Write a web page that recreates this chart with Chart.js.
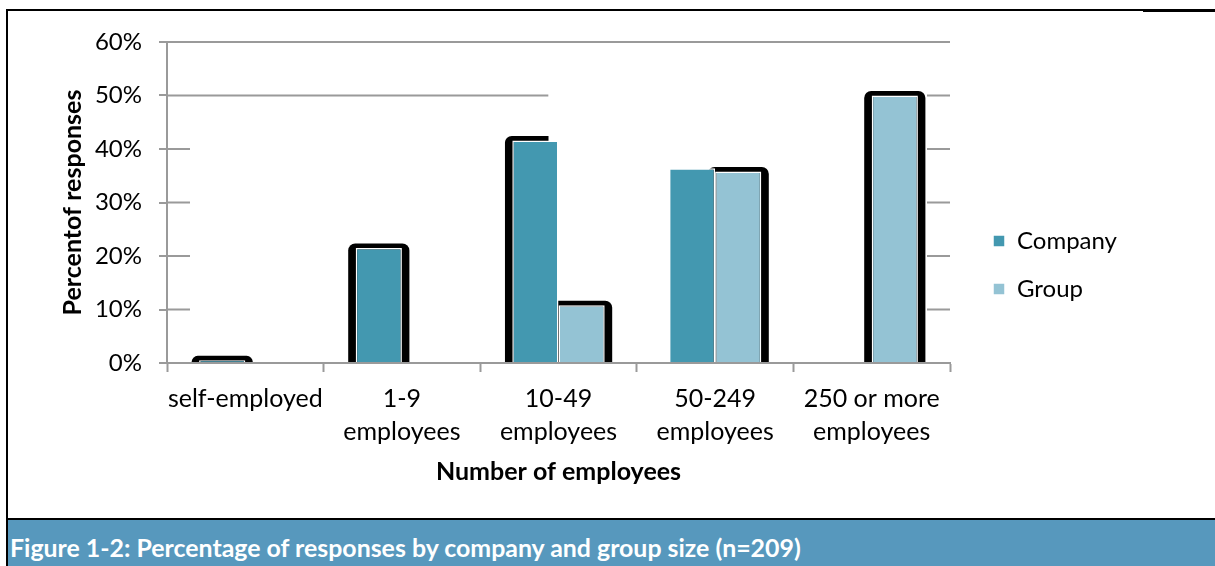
<!DOCTYPE html>
<html>
<head>
<meta charset="utf-8">
<title>Responses by company and group size</title>
<script src="https://cdn.jsdelivr.net/npm/chart.js@4.4.1/dist/chart.umd.min.js"></script>
<style>
  html, body { margin: 0; padding: 0; background: #fff; }
  #figure { position: relative; width: 1215px; height: 566px; overflow: hidden; font-family: Lato, sans-serif; }
  #frame { position: absolute; left: 6px; top: 9px; right: -4px; bottom: 0; border-left: 2px solid #000; border-top: 2px solid #000; }
  #frame-edge { position: absolute; left: 1143px; top: 10px; width: 72px; height: 2px; background: #000; }
  #chart { position: absolute; left: 0; top: 0; }
  #caption {
    position: absolute; left: 8px; right: 0; top: 518px; bottom: 0;
    border-top: 2px solid #000; background: #5798bd; color: #fff;
    font-weight: bold; font-size: 24.9px; line-height: 28px;
    padding: 13px 0 0 2px; box-sizing: border-box; white-space: nowrap;
  }
</style>
</head>
<body>
<div id="figure">
  <div id="frame"></div>
  <div id="frame-edge"></div>
  <canvas id="chart" width="1215" height="518"></canvas>
  <div id="caption">Figure 1-2: Percentage of responses by company and group size (n=209)</div>
</div>
<script>
// Share of responses (%) per size band
const categories = ['self-employed', ['1-9', 'employees'], ['10-49', 'employees'], ['50-249', 'employees'], ['250 or more', 'employees']];
const companyValues = [0.5, 21.5, 41.6, 36.4, 0];
const groupValues = [0, 0, 10.8, 35.8, 50.0];
const yTicks = [0, 10, 20, 30, 40, 50, 60];

const GRID = '#9a9a9a';

// Short grid stubs at the plot edges, plus the longer 50% line
const gridStubs = {
    id: 'gridStubs',
    beforeDatasetsDraw(chart, args, opts) {
        const { ctx, chartArea: a, scales: { y } } = chart;
        ctx.save();
        ctx.strokeStyle = opts.color;
        ctx.lineWidth = opts.width;
        yTicks.forEach(v => {
            if (v === yTicks[0] || v === yTicks[yTicks.length - 1]) return;
            const py = y.getPixelForValue(v);
            const leftEnd = v === opts.longValue ? a.left + a.width * opts.longReach : a.left + opts.stub;
            ctx.beginPath();
            ctx.moveTo(a.left, py);
            ctx.lineTo(leftEnd, py);
            ctx.moveTo(a.right - opts.stub, py);
            ctx.lineTo(a.right, py);
            ctx.stroke();
        });
        ctx.restore();
    }
};

// Black rounded halo drawn behind the bars
const barHalo = {
    id: 'barHalo',
    beforeDatasetsDraw(chart, args, opts) {
        const { ctx } = chart;
        const sets = chart.data.datasets;
        ctx.save();
        ctx.fillStyle = opts.color;
        sets.forEach((ds, di) => {
            const meta = chart.getDatasetMeta(di);
            meta.data.forEach((bar, i) => {
                if (!ds.data[i] || !opts.shown[di][i]) return;
                const { x, y, base, width } = bar.getProps(['x', 'y', 'base', 'width'], true);
                const left = x - width / 2 - opts.spread;
                const right = x + width / 2 + opts.spread;
                const top = y - opts.rise;
                ctx.save();
                // next bar in the same band hides the right side of this halo
                if (di + 1 < sets.length && sets[di + 1].data[i] > 0) {
                    ctx.beginPath();
                    ctx.rect(left, top - 1, x + width / 2 - opts.gap - left, base - top + 2);
                    ctx.clip();
                }
                ctx.beginPath();
                ctx.roundRect(left, top, right - left, base - top, [opts.radius, opts.radius, 0, 0]);
                ctx.fill();
                ctx.restore();
            });
        });
        ctx.restore();
    }
};

// Fixed legend column width, legend indented from the plot
const legendPlacement = {
    id: 'legendPlacement',
    beforeInit(chart, args, opts) {
        const legend = chart.legend;
        const fit = legend.fit;
        legend.fit = function () {
            fit.call(this);
            this.width = opts.width;
        };
    },
    afterLayout(chart, args, opts) {
        chart.legend.left += opts.indent;
        chart.legend.right += opts.indent;
    }
};

Chart.defaults.font.family = 'Lato';
Chart.defaults.color = '#000';

new Chart(document.getElementById('chart'), {
    type: 'bar',
    data: {
        labels: categories,
        datasets: [{
            label: 'Company',
            data: companyValues,
            backgroundColor: '#4398b0',
            borderColor: '#ffffff',
            borderWidth: 1.5,
            barPercentage: 1,
            categoryPercentage: 0.59
        }, {
            label: 'Group',
            data: groupValues,
            backgroundColor: '#94c3d4',
            borderColor: '#ffffff',
            borderWidth: 1.5,
            barPercentage: 1,
            categoryPercentage: 0.59
        }]
    },
    options: {
        responsive: false,
        devicePixelRatio: 1,
        animation: false,
        layout: { padding: { top: 42, bottom: 30, left: 0, right: 0 } },
        scales: {
            x: {
                afterFit: s => { s.height = 125; },
                ticks: { color: '#000', font: { size: 25, lineHeight: '33px' }, padding: 10, maxRotation: 0, autoSkip: false },
                grid: { drawOnChartArea: false, tickLength: 9, tickColor: GRID, tickWidth: 2 },
                border: { color: GRID, width: 2 },
                title: {
                    display: true, text: 'Number of employees', color: '#000',
                    font: { size: 25, weight: 'bold' }, padding: { top: 0, bottom: 1 }
                }
            },
            y: {
                min: 0,
                max: 60,
                afterBuildTicks: s => { s.ticks = yTicks.map(v => ({ value: v })); },
                afterFit: s => { s.width = 167; },
                ticks: { color: '#000', font: { size: 24 }, padding: 17, callback: v => v + '%' },
                grid: {
                    color: c => (c.tick && c.tick.value === yTicks[yTicks.length - 1] ? GRID : 'rgba(0,0,0,0)'),
                    lineWidth: 2, tickColor: GRID, tickLength: 8, tickWidth: 2
                },
                border: { color: GRID, width: 2 },
                title: {
                    display: true, text: 'Percentof responses', color: '#000',
                    font: { size: 25, weight: 'bold' }, padding: { top: 58, bottom: 0 }
                }
            }
        },
        plugins: {
            legend: {
                position: 'right',
                labels: { boxWidth: 12, boxHeight: 12, padding: 24, color: '#000', font: { size: 24 } }
            },
            tooltip: { enabled: false },
            gridStubs: { color: GRID, width: 2, stub: 23, longValue: 50, longReach: 0.487 },
            barHalo: {
                color: '#000', spread: 7.5, rise: 4.5, radius: 7, gap: 10,
                shown: [[true, true, true, false, false], [false, false, true, true, true]]
            },
            legendPlacement: { width: 265, indent: 19 }
        }
    },
    plugins: [gridStubs, barHalo, legendPlacement]
});
</script>
</body>
</html>
